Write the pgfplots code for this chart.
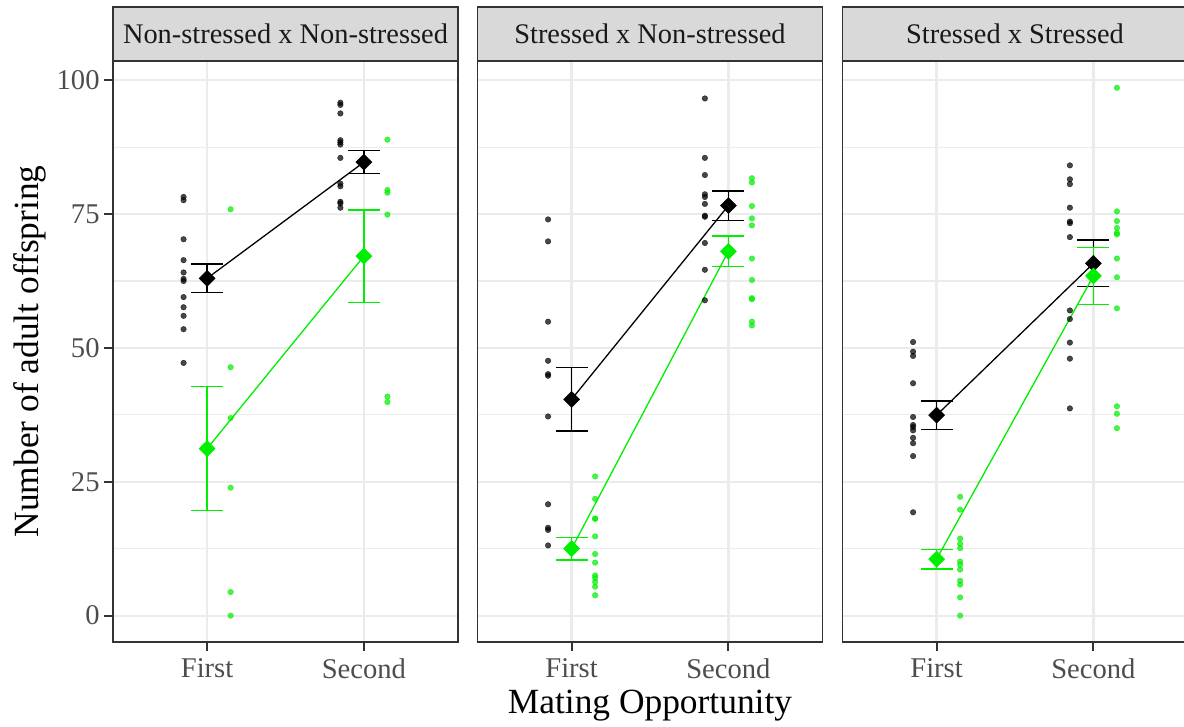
\documentclass[border=0pt]{standalone}
\usepackage{pgfplots}
\pgfplotsset{compat=1.18}
\usepackage{fontspec}
\setmainfont{Liberation Serif}

\definecolor{gridc}{HTML}{EBEBEB}
\definecolor{framec}{HTML}{333333}
\definecolor{tickc}{HTML}{4D4D4D}
\definecolor{stripc}{HTML}{D9D9D9}
\definecolor{grn}{HTML}{00EE00}

\pgfplotsset{
  panel/.style={
    scale only axis, width=172.5pt, height=290.5pt, anchor=south west,
    xmin=0.4, xmax=2.6, ymin=-4.93, ymax=103.6,
    xtick={1,2}, xticklabels={First,Second},
    ytick={0,25,50,75,100}, minor ytick={12.5,37.5,62.5,87.5},
    grid=both,
    major grid style={gridc, line width=1.1pt},
    minor grid style={gridc, line width=0.55pt},
    axis line style={framec, line width=0.6pt},
    tick align=outside, tick pos=left,
    major tick length=4.5pt, minor tick length=0pt,
    major tick style={framec, line width=1pt},
    tick label style={font=\fontsize{14.3}{16}\selectfont, text=tickc},
    yticklabel style={inner sep=2pt},
    xticklabel style={inner sep=3.5pt},
    /pgf/number format/assume math mode=true,
  },
  inner/.style={yticklabels={}, ytick style={draw=none}},
  obs/.style={only marks, mark=*, mark size=1.4pt,
    mark options={draw=#1, fill=#1, line width=0.2pt, opacity=0.72}},
  meanline/.style={#1, line width=0.65pt, mark=square*, mark size=2.8pt,
    mark options={rotate=45, fill=#1, draw=#1, line width=0.3pt},
    error bars/.cd, y dir=both, y explicit,
    error bar style={#1, line width=0.7pt},
    error mark options={#1, rotate=90, mark size=8pt, line width=0.7pt}},
}

\newcommand{\strip}[2]{%
  \draw[framec, fill=stripc, line width=0.6pt] (#1,333pt) rectangle ++(172.5pt,27pt);
  \node[font=\fontsize{14.2}{16}\selectfont, text=black!90] at ([xshift=86.25pt]#1,346.5pt) {#2};
}

\begin{document}
\begin{tikzpicture}

% Panel 1: Non-stressed x Non-stressed
\begin{axis}[panel, at={(56.5pt,42.5pt)}]
  \addplot[obs=black] coordinates {
    (0.85,78.2) (0.85,77.6) (0.85,70.3) (0.85,66.4) (0.85,64.1) (0.85,62.9)
    (0.85,62.5) (0.85,59.5) (0.85,57.6) (0.85,56.0) (0.85,53.5) (0.85,47.2)
    (1.85,95.8) (1.85,95.4) (1.85,93.8) (1.85,88.8) (1.85,88.4) (1.85,88.0)
    (1.85,85.5) (1.85,80.7) (1.85,80.2) (1.85,77.3) (1.85,77.0) (1.85,76.2)};
  \addplot[obs=grn] coordinates {
    (1.15,75.9) (1.15,46.4) (1.15,36.9) (1.15,23.9) (1.15,4.4) (1.15,0.0)
    (2.15,88.9) (2.15,79.5) (2.15,79.0) (2.15,74.9) (2.15,40.9) (2.15,39.9)};
  \addplot[meanline=black] coordinates {(1,63.0) +- (0,2.65) (2,84.7) +- (0,2.15)};
  \addplot[meanline=grn] coordinates {(1,31.2) +- (0,11.6) (2,67.15) +- (0,8.65)};
\end{axis}
\strip{56.5pt}{Non-stressed x Non-stressed}

% Panel 2: Stressed x Non-stressed
\begin{axis}[panel, inner, at={(238.75pt,42.5pt)}]
  \addplot[obs=black] coordinates {
    (0.85,74.0) (0.85,69.9) (0.85,54.9) (0.85,47.6) (0.85,45.1) (0.85,44.8)
    (0.85,37.2) (0.85,20.8) (0.85,16.4) (0.85,16.0) (0.85,13.1)
    (1.85,96.6) (1.85,85.5) (1.85,82.3) (1.85,78.7) (1.85,78.2) (1.85,76.9)
    (1.85,74.7) (1.85,74.5) (1.85,69.6) (1.85,64.6) (1.85,58.9)};
  \addplot[obs=grn] coordinates {
    (1.15,26.0) (1.15,21.8) (1.15,18.1) (1.15,18.1) (1.15,14.8) (1.15,11.5)
    (1.15,9.9) (1.15,7.5) (1.15,7.0) (1.15,6.3) (1.15,5.4) (1.15,3.8)
    (2.15,81.7) (2.15,80.9) (2.15,76.5) (2.15,74.2) (2.15,72.9) (2.15,66.7)
    (2.15,62.7) (2.15,59.3) (2.15,59.1) (2.15,54.9) (2.15,54.2)};
  \addplot[meanline=black] coordinates {(1,40.4) +- (0,5.9) (2,76.6) +- (0,2.75)};
  \addplot[meanline=grn] coordinates {(1,12.5) +- (0,2.1) (2,68.05) +- (0,2.85)};
\end{axis}
\strip{238.75pt}{Stressed x Non-stressed}

% Panel 3: Stressed x Stressed
\begin{axis}[panel, inner, at={(421.25pt,42.5pt)}]
  \addplot[obs=black] coordinates {
    (0.85,51.1) (0.85,49.3) (0.85,48.5) (0.85,43.4) (0.85,37.1) (0.85,35.6)
    (0.85,35.2) (0.85,34.6) (0.85,33.2) (0.85,32.2) (0.85,29.8) (0.85,19.3)
    (1.85,84.1) (1.85,81.5) (1.85,80.6) (1.85,76.2) (1.85,73.6) (1.85,73.3)
    (1.85,70.7) (1.85,57.0) (1.85,55.4) (1.85,51.0) (1.85,48.0) (1.85,38.7)};
  \addplot[obs=grn] coordinates {
    (1.15,22.2) (1.15,19.8) (1.15,14.4) (1.15,13.4) (1.15,12.6) (1.15,10.1)
    (1.15,9.5) (1.15,8.6) (1.15,6.5) (1.15,5.8) (1.15,3.4) (1.15,0.0)
    (2.15,98.6) (2.15,75.5) (2.15,73.7) (2.15,72.4) (2.15,71.5) (2.15,71.2)
    (2.15,66.7) (2.15,63.2) (2.15,57.4) (2.15,39.1) (2.15,37.7) (2.15,35.0)};
  \addplot[meanline=black] coordinates {(1,37.45) +- (0,2.65) (2,65.8) +- (0,4.35)};
  \addplot[meanline=grn] coordinates {(1,10.55) +- (0,1.85) (2,63.45) +- (0,5.35)};
\end{axis}
\strip{421.25pt}{Stressed x Stressed}

% Shared axis titles
\node[rotate=90, font=\fontsize{17.7}{20}\selectfont] at (15pt,187.75pt) {Number of adult offspring};
\node[font=\fontsize{17.7}{20}\selectfont] at (325pt,10.5pt) {Mating Opportunity};

\pgfresetboundingbox
\useasboundingbox (0,0) rectangle (592pt,363.5pt);
\end{tikzpicture}
\end{document}
